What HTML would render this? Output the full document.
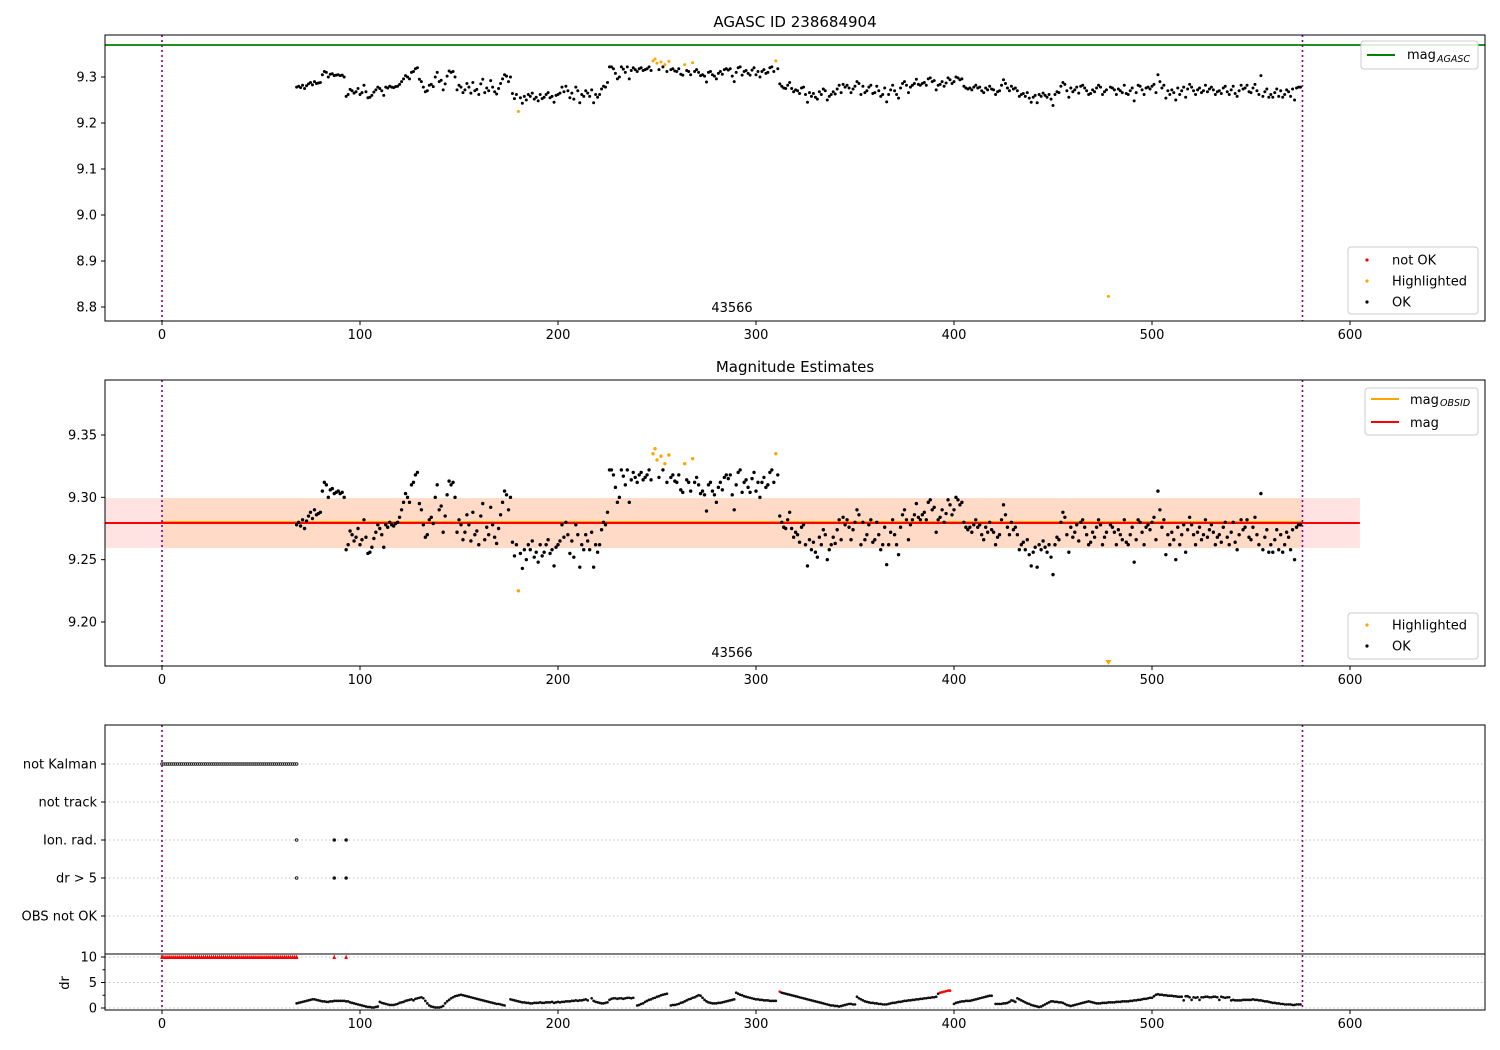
<!DOCTYPE html>
<html><head><meta charset="utf-8"><style>
html,body{margin:0;padding:0;background:#fff;}
svg{display:block;font-family:"DejaVu Sans","Liberation Sans",sans-serif;}
</style></head><body>
<svg id="c" width="1500" height="1050" viewBox="0 0 1500 1050" xmlns="http://www.w3.org/2000/svg"></svg>
<script>
// ---- data ----
const magStart = 68;
// magnitudes in milli-mag above 9.000 (e.g. 278 => 9.278), indices 68..575
const magMilli = [278,280,277,282,275,281,285,288,283,290,286,287,
288,305,312,310,300,306,307,303,304,305,303,304,300,
258,262,273,270,265,268,275,
262,266,282,268,255,256,260,267,272,278,
275,270,260,278,276,280,278,277,279,280,
284,290,296,303,300,296,310,312,318,320,
295,290,278,268,270,282,284,279,300,310,
290,293,272,285,302,313,310,312,300,272,
282,278,266,272,286,278,265,288,270,273,
262,285,295,266,276,270,292,278,268,263,
275,286,296,305,302,290,300,264,253,262,
256,255,243,258,250,262,258,265,252,256,
248,262,253,256,262,266,255,258,245,260,
262,265,278,268,280,270,255,265,252,278,
270,244,262,258,270,265,258,272,244,262,
256,262,274,280,278,288,322,322,318,308,
296,300,322,317,310,322,296,314,320,316,
312,318,320,314,316,318,322,314,316,314,
320,316,318,322,315,312,320,316,318,313,
312,318,306,304,318,314,312,305,300,312,
316,310,303,305,302,289,310,312,305,302,
296,308,312,306,316,318,315,318,302,290,
310,320,322,304,312,314,308,304,315,320,
305,312,300,312,316,308,310,320,322,312,
310,318,285,280,276,275,282,288,275,268,
272,270,264,276,278,262,245,266,258,264,
256,252,268,262,274,270,250,258,262,268,
263,274,282,266,284,278,282,276,266,274,
280,290,286,262,280,266,270,278,282,264,
266,280,270,258,262,276,246,262,272,282,
270,262,254,276,286,290,282,266,278,282,
286,295,284,282,286,288,282,296,298,290,
292,272,282,284,290,280,287,298,294,286,
290,300,298,294,296,280,276,274,276,272,
278,282,276,278,270,266,276,272,280,274,
272,262,268,270,282,294,286,276,270,280,
274,276,270,258,262,264,258,266,254,245,
256,260,244,262,258,265,260,256,262,252,
238,262,268,266,280,288,284,270,256,276,
268,272,278,265,280,282,276,270,262,264,
272,268,276,282,278,262,268,272,266,278,
276,272,262,274,270,266,282,264,262,270,
276,248,266,282,280,272,262,276,278,274,
280,284,266,305,290,276,282,254,270,262,
272,266,250,276,262,270,278,256,274,284,
278,270,262,272,276,266,270,282,268,274,
278,272,262,268,270,264,276,280,268,262,
272,280,264,258,270,282,274,276,282,268,
266,276,284,270,262,303,258,268,274,256,
262,256,266,274,258,270,256,262,272,268,
258,274,250,276,278,278];
const hiIdx = [180,248,249,250,252,254,256,264,268,310,478];
const hiMag = [9.225,9.335,9.339,9.330,9.333,9.327,9.334,9.327,9.331,9.335,8.823];
const drStart = 68;
const drVals = [0.9,1.0,1.1,1.2,1.3,1.4,1.5,1.6,1.7,1.7,1.6,1.5,
1.4,1.3,1.3,1.2,1.2,1.3,1.3,1.4,1.4,1.4,
1.4,1.4,1.4,1.3,1.3,1.1,1.0,0.9,0.8,0.7,
0.6,0.5,0.4,0.3,0.2,0.2,0.1,0.1,0.2,0.3,
1.2,1.0,0.9,0.8,0.7,0.6,0.6,0.6,0.7,0.8,
1.0,1.1,1.2,1.4,1.5,1.6,1.7,1.5,1.8,1.9,
2.0,2.1,1.9,1.4,0.9,0.5,0.3,0.2,0.1,0.1,
0.1,0.2,0.4,0.9,1.3,1.6,1.9,2.1,2.3,2.4,
2.5,2.6,2.5,2.4,2.3,2.2,2.1,2.0,1.9,1.8,
1.7,1.6,1.5,1.4,1.3,1.2,1.1,1.0,0.9,0.8,
0.8,0.7,0.6,0.5,null,null,1.7,1.6,1.5,1.4,
1.3,1.2,1.1,1.1,1.0,1.0,0.9,0.9,1.0,1.0,
1.0,1.1,1.0,1.0,1.1,1.1,1.1,1.2,1.0,1.1,
1.2,1.1,1.2,1.2,1.3,1.3,1.3,1.4,1.4,1.5,
1.4,1.5,1.5,1.6,1.7,1.5,null,1.9,1.4,1.2,
1.1,1.0,0.9,0.9,1.0,1.1,1.6,1.8,1.9,1.9,
1.8,1.9,1.9,1.8,1.9,2.0,2.0,1.9,2.0,null,
0.5,0.6,0.8,0.9,1.2,1.4,1.6,1.7,1.9,2.0,
2.2,2.3,2.5,2.6,2.7,2.8,null,0.5,0.6,0.6,
0.7,0.8,1.0,1.1,1.3,1.5,1.7,1.8,2.0,2.1,
2.3,2.5,2.4,2.0,1.6,1.3,1.1,1.0,0.9,0.9,
0.9,1.0,1.0,1.1,1.2,1.3,1.4,1.5,1.6,1.7,
3.0,2.8,2.6,2.5,2.3,2.2,2.1,2.0,1.9,1.8,
1.7,1.7,1.6,1.6,1.5,1.5,1.5,1.4,1.4,1.4,
1.4,null,3.2,3.0,2.9,2.8,2.7,2.6,2.5,2.4,
2.3,2.2,2.1,2.0,1.9,1.8,1.7,1.6,1.5,1.4,
1.3,1.2,1.1,1.0,0.9,0.8,0.7,0.6,0.5,0.5,
0.4,0.4,0.3,0.4,0.5,0.6,0.7,0.8,0.8,0.7,
0.7,2.2,1.9,1.7,1.5,1.3,1.2,1.1,1.0,1.0,
0.9,0.9,0.8,0.8,0.7,0.7,0.7,0.8,0.9,1.0,
1.0,1.1,1.2,1.2,1.3,1.4,1.4,1.5,1.5,1.6,
1.6,1.7,1.7,1.8,1.8,1.9,1.9,2.0,2.0,2.1,
2.1,2.2,2.8,3.0,3.1,3.2,3.3,3.4,3.4,null,
0.8,1.0,1.1,1.2,1.3,1.3,1.4,1.4,1.4,1.5,
1.6,1.7,1.8,1.9,2.0,2.1,2.2,2.3,2.4,2.4,
null,0.8,0.8,0.8,0.8,0.9,0.9,1.0,1.2,1.5,
1.4,1.2,1.9,1.7,1.5,1.3,1.1,0.9,0.8,0.6,
0.5,0.4,0.3,0.2,0.3,0.5,0.7,0.9,1.1,1.3,
1.3,1.2,1.2,1.1,1.1,1.0,0.8,0.6,0.5,0.4,
0.5,0.6,0.7,0.8,0.9,1.0,1.1,1.2,1.3,1.2,
1.1,1.0,0.9,0.9,0.9,1.0,1.0,1.0,1.1,1.1,
1.1,1.1,1.2,1.2,1.2,1.3,1.3,1.3,1.3,1.4,
1.4,1.5,1.5,1.6,1.6,1.7,1.8,1.8,1.9,2.0,
2.0,2.3,2.6,2.7,2.6,2.6,2.5,2.5,2.4,2.4,
2.4,2.3,2.3,2.2,2.2,2.2,1.5,2.3,2.3,2.1,
1.6,2.1,2.0,2.1,1.6,2.1,2.1,2.2,2.2,2.1,
2.1,2.2,2.2,2.1,1.6,2.2,2.1,2.0,2.1,2.1,
1.5,1.6,1.5,1.5,1.5,1.5,1.6,1.6,1.6,1.6,
1.6,1.7,1.6,1.6,1.5,1.5,1.4,1.3,1.3,1.2,
1.1,1.0,1.0,0.9,0.9,0.8,0.8,0.7,0.7,0.7,
0.7,0.6,0.6,0.7,0.7,0.7];
const drRedIdx = [312,393,394,395,396,397,398];
const cappedIdxEnd = 68;
const cappedExtra = [87,93];
const flagCats = ["not Kalman","not track","Ion. rad.","dr > 5","OBS not OK"];
const ionIdx = [68,87,93];
const xTicks = [0,100,200,300,400,500,600];
const p1Ticks = [8.8,8.9,9.0,9.1,9.2,9.3];
const p2Ticks = [9.20,9.25,9.30,9.35];
const drTicks = [0,5,10];
const magAgasc = 9.3696, magObs = 9.2794, magBandLo = 9.2593, magBandHi = 9.2994;
const obsStart = 0, obsEnd = 576;

// ---- helpers ----
const svg = document.getElementById('c');
const NS = 'http://www.w3.org/2000/svg';
function mk(tag, attrs, parent){const e=document.createElementNS(NS,tag);for(const k in attrs)e.setAttribute(k,attrs[k]);(parent||svg).appendChild(e);return e;}
const L=105,R=1485;
const X = v => 162 + v*1.98;
const Y1 = v => 77 + (9.3 - v)*460;
const Y2 = v => 435 + (9.35 - v)*1246.7;
const catY = [764,802,840,878,916];
const Ydr = v => 1008 - v*5.1;

function frame(top,bot,name){
  const r=mk('rect',{x:L,y:top,width:R-L,height:bot-top,fill:'none',stroke:'#000','stroke-width':1});
  
  
}
function xAxis(bot,name){
  const g=mk('g',{});
  
  
  xTicks.forEach(t=>{
    mk('line',{x1:X(t),x2:X(t),y1:bot,y2:bot+4,stroke:'#000'},g);
    const tx=mk('text',{x:X(t),y:bot+18,'text-anchor':'middle','font-size':13},g);tx.textContent=t;
  });
}
function yTick(y,label,g){
  mk('line',{x1:L-4,x2:L,y1:y,y2:y,stroke:'#000'},g);
  const tx=mk('text',{x:L-8,y:y+4.5,'text-anchor':'end','font-size':13},g);tx.textContent=label;
}
function vlines(top,bot,name){
  [obsStart,obsEnd].forEach(v=>{
    const l=mk('line',{x1:X(v),x2:X(v),y1:top,y2:bot,stroke:'#800080','stroke-width':1.6,'stroke-dasharray':'2,3'});
    
    
  });
}
function text(x,y,s,size,anchor,name){
  const t=mk('text',{x:x,y:y,'font-size':size,'text-anchor':anchor||'middle'});t.textContent=s;
  
  
  return t;
}
function legendBox(x,y,w,h,name){
  const g=mk('g',{});
  
  
  mk('rect',{x:x,y:y,width:w,height:h,rx:3,fill:'#fff','fill-opacity':0.85,stroke:'#ccc'},g);
  return g;
}

// ================= PANEL 1 =================
text(795,27,'AGASC ID 238684904',15,'middle','panel1-title');
const c1=mk('clipPath',{id:'cl1'});mk('rect',{x:L,y:35,width:R-L,height:286},c1);
const g1=mk('g',{'clip-path':'url(#cl1)'});


const ag=mk('line',{x1:L,x2:R,y1:Y1(magAgasc),y2:Y1(magAgasc),stroke:'#008000','stroke-width':1.8},g1);


magMilli.forEach((m,i)=>{
  const idx=magStart+i;
  if(hiIdx.includes(idx))return;
  const p=mk('circle',{cx:X(idx),cy:Y1(9+m/1000),r:1.5,fill:'#000'},g1);
  
  
});
hiIdx.forEach((idx,i)=>{
  const p=mk('circle',{cx:X(idx),cy:Y1(hiMag[i]),r:1.5,fill:'#ffa500'},g1);
  
  
});
vlines(35,321,'obs-boundary-line');
text(732,312,'43566',13,'middle','obsid-label-1');
frame(35,321,'panel1-frame');
xAxis(321,'panel1-x-axis');
const ya1=mk('g',{});


p1Ticks.forEach(t=>yTick(Y1(t),t.toFixed(1),ya1));
let lg=legendBox(1361,41,117,28,'legend-mag-agasc');
mk('line',{x1:1367,x2:1395,y1:55,y2:55,stroke:'#008000','stroke-width':2},lg);
let lt=mk('text',{x:1407,y:59,'font-size':13},lg);lt.textContent='mag';
lt=mk('text',{x:1437,y:62,'font-size':9.5,'font-style':'italic'},lg);lt.textContent='AGASC';
lg=legendBox(1348,247,130,67,'legend-status');
[['not OK','#ff0000',260],['Highlighted','#ffa500',281],['OK','#000',302]].forEach(e=>{
  mk('circle',{cx:1367,cy:e[2],r:1.6,fill:e[1]},lg);
  const t=mk('text',{x:1392,y:e[2]+4.5,'font-size':13},lg);t.textContent=e[0];
});

// ================= PANEL 2 =================
text(795,372,'Magnitude Estimates',15,'middle','panel2-title');
const c2=mk('clipPath',{id:'cl2'});mk('rect',{x:L,y:380,width:R-L,height:286},c2);
const g2=mk('g',{'clip-path':'url(#cl2)'});


const b1=mk('rect',{x:L,y:Y2(magBandHi),width:X(605)-L,height:Y2(magBandLo)-Y2(magBandHi),fill:'#ff0000','fill-opacity':0.11},g2);


const b2=mk('rect',{x:X(obsStart),y:Y2(magBandHi),width:X(obsEnd)-X(obsStart),height:Y2(magBandLo)-Y2(magBandHi),fill:'#ffa500','fill-opacity':0.12},g2);


const lo=mk('line',{x1:X(obsStart),x2:X(obsEnd),y1:Y2(magObs)-1,y2:Y2(magObs)-1,stroke:'#ffa500','stroke-width':2},g2);


const lr=mk('line',{x1:L,x2:X(605),y1:Y2(magObs),y2:Y2(magObs),stroke:'#ff0000','stroke-width':2},g2);


magMilli.forEach((m,i)=>{
  const idx=magStart+i;
  if(hiIdx.includes(idx))return;
  const p=mk('circle',{cx:X(idx),cy:Y2(9+m/1000),r:1.7,fill:'#000'},g2);
  
  
});
hiIdx.forEach((idx,i)=>{
  const v=hiMag[i];
  if(Y2(v)>666){
    const x=X(idx);
    const p=mk('path',{d:`M${x-3},660 L${x+3},660 L${x},665 Z`,fill:'#ffa500'});
    
    
    return;
  }
  const p=mk('circle',{cx:X(idx),cy:Y2(v),r:1.7,fill:'#ffa500'},g2);
  
  
});
vlines(380,666,'obs-boundary-line');
text(732,657,'43566',13,'middle','obsid-label-2');
frame(380,666,'panel2-frame');
xAxis(666,'panel2-x-axis');
const ya2=mk('g',{});


p2Ticks.forEach(t=>yTick(Y2(t),t.toFixed(2),ya2));
lg=legendBox(1365,388,113,47,'legend-mag');
mk('line',{x1:1371,x2:1399,y1:399,y2:399,stroke:'#ffa500','stroke-width':2},lg);
lt=mk('text',{x:1410,y:404,'font-size':13},lg);lt.textContent='mag';
lt=mk('text',{x:1440,y:406,'font-size':9.5,'font-style':'italic'},lg);lt.textContent='OBSID';
mk('line',{x1:1371,x2:1399,y1:422,y2:422,stroke:'#ff0000','stroke-width':2},lg);
lt=mk('text',{x:1410,y:427,'font-size':13},lg);lt.textContent='mag';
lg=legendBox(1348,613,130,46,'legend-status-2');
[['Highlighted','#ffa500',625],['OK','#000',646]].forEach(e=>{
  mk('circle',{cx:1367,cy:e[2],r:1.6,fill:e[1]},lg);
  const t=mk('text',{x:1392,y:e[2]+4.5,'font-size':13},lg);t.textContent=e[0];
});

// ================= PANEL 3 (flags) =================
const gf=mk('g',{});


flagCats.forEach((c,i)=>{
  mk('line',{x1:L,x2:R,y1:catY[i],y2:catY[i],stroke:'#aaa','stroke-width':0.8,'stroke-dasharray':'1.5,2.5'},gf);
  yTick(catY[i],c,gf);
});
for(let idx=0; idx<=cappedIdxEnd; idx++){
  const p=mk('circle',{cx:X(idx),cy:catY[0],r:1.3,fill:'#fff',stroke:'#222','stroke-width':1},gf);
  
  
}
ionIdx.forEach(idx=>{
  [2,3].forEach(ci=>{
    const p=mk('circle',{cx:X(idx),cy:catY[ci],r:1.3,fill:idx===68?'#fff':'#000',stroke:'#222','stroke-width':1},gf);
    
    
  });
});
vlines(725,1010,'obs-boundary-line');
frame(725,954,'flags-frame');

// ================= dr panel =================
const gd=mk('g',{});


drTicks.forEach(t=>{
  mk('line',{x1:L,x2:R,y1:Ydr(t),y2:Ydr(t),stroke:'#aaa','stroke-width':0.8,'stroke-dasharray':'1.5,2.5'},gd);
  yTick(Ydr(t),t,gd);
});
[2.5,7.5].forEach(t=>mk('line',{x1:L-2.5,x2:L,y1:Ydr(t),y2:Ydr(t),stroke:'#000'},gd));
drVals.forEach((v,i)=>{
  if(v===null)return;
  const idx=drStart+i;
  const red=drRedIdx.includes(idx);
  const p=mk('circle',{cx:X(idx),cy:Ydr(v),r:1.35,fill:red?'#ff0000':'#111'},gd);
  
  
});
const capped=[];
for(let idx=0; idx<=cappedIdxEnd; idx++)capped.push(idx);
capped.concat(cappedExtra).forEach(idx=>{
  const x=X(idx), y=Ydr(10);
  const p=mk('path',{d:`M${x-1.8},${y+2} L${x+1.8},${y+2} L${x},${y-2.5} Z`,fill:'#ff0000'},gd);
  
  
});
frame(954,1010,'dr-frame');
xAxis(1010,'dr-x-axis');
const dl=mk('text',{x:0,y:0,'font-size':13,'text-anchor':'middle',transform:'translate(69,983) rotate(-90)'});
dl.textContent='dr';


</script>
</body></html>
